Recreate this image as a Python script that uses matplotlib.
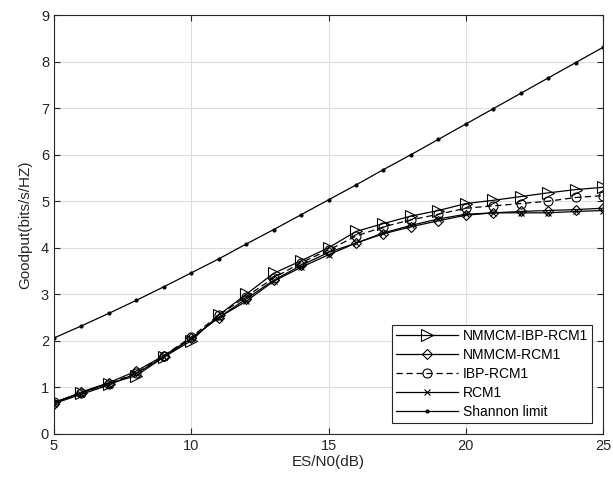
import matplotlib.pyplot as plt

plt.rcParams['font.family'] = ['Liberation Sans', 'DejaVu Sans']

snr_db = [5, 6, 7, 8, 9, 10, 11, 12, 13, 14, 15, 16, 17, 18, 19, 20, 21, 22, 23, 24, 25]

nmmcm_ibp_rcm1 = [0.68, 0.88, 1.08, 1.25, 1.65, 2.00, 2.55, 3.00, 3.45, 3.72, 4.00,
                  4.35, 4.52, 4.68, 4.80, 4.95, 5.02, 5.10, 5.18, 5.25, 5.30]
nmmcm_rcm1 = [0.65, 0.90, 1.10, 1.35, 1.68, 2.05, 2.50, 2.90, 3.30, 3.62, 3.90,
              4.10, 4.30, 4.45, 4.58, 4.70, 4.75, 4.78, 4.80, 4.82, 4.85]
ibp_rcm1 = [0.68, 0.88, 1.08, 1.30, 1.68, 2.08, 2.55, 2.95, 3.35, 3.68, 3.95,
            4.25, 4.45, 4.60, 4.72, 4.85, 4.90, 4.95, 5.00, 5.08, 5.12]
rcm1 = [0.65, 0.85, 1.05, 1.30, 1.65, 2.05, 2.50, 2.85, 3.28, 3.58, 3.85,
        4.10, 4.32, 4.48, 4.62, 4.72, 4.75, 4.75, 4.75, 4.78, 4.80]
shannon = [2.06, 2.32, 2.59, 2.87, 3.16, 3.46, 3.76, 4.08, 4.39, 4.71, 5.03,
           5.35, 5.68, 6.00, 6.33, 6.66, 6.99, 7.32, 7.65, 7.98, 8.31]

fig = plt.figure(figsize=(6.13, 4.88), dpi=100)
ax = fig.add_axes([0.088, 0.111, 0.896, 0.858])

mk = dict(color='black', lw=0.9, markerfacecolor='none', markeredgecolor='black',
          markeredgewidth=0.8)
ax.plot(snr_db, nmmcm_ibp_rcm1, '->', ms=8, label='NMMCM-IBP-RCM1', **mk)
ax.plot(snr_db, nmmcm_rcm1, '-D', ms=5.5, label='NMMCM-RCM1', **mk)
ax.plot(snr_db, ibp_rcm1, '--o', ms=6.5, dashes=(5, 3), label='IBP-RCM1', **mk)
ax.plot(snr_db, rcm1, '-x', ms=5, label='RCM1', **mk)
ax.plot(snr_db, shannon, color='black', lw=0.9, linestyle='-', marker='.',
        ms=4, label='Shannon limit')

ax.set_xlim(5, 25)
ax.set_ylim(0, 9)
ax.set_xticks([5, 10, 15, 20, 25])
ax.set_yticks(range(0, 10))
ax.grid(True, color='#dedede', lw=0.8)
ax.set_axisbelow(True)
ax.tick_params(direction='in', top=True, right=True, labelsize=10.5,
               colors='#262626', length=4)
for s in ax.spines.values():
    s.set_color('#262626')
    s.set_linewidth(0.8)

ax.set_xlabel('ES/N0(dB)', fontsize=11, color='#262626', labelpad=2)
ax.set_ylabel('Goodput(bits/s/HZ)', fontsize=11, color='#262626', labelpad=6)

leg = ax.legend(loc='lower right', fontsize=10, fancybox=False, framealpha=1,
                edgecolor='#262626', handlelength=4.5, borderaxespad=0.8,
                labelspacing=0.35, handletextpad=0.3, borderpad=0.3)
leg.get_frame().set_linewidth(0.8)

fig.savefig('out.png', dpi=100)
